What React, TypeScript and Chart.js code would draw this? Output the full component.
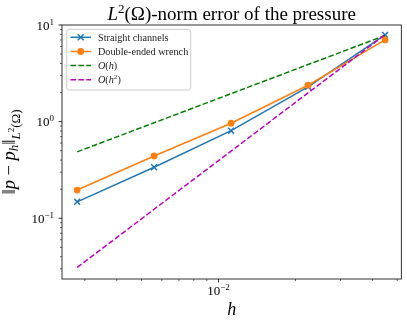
import { useEffect, useRef } from 'react';
import { Chart, registerables } from 'chart.js';

Chart.register(...registerables);

// ---- data ----
const hValues = [0.0028, 0.0056, 0.0112, 0.0224, 0.0448];
const straightErr = [0.148, 0.337, 0.807, 2.29, 7.9];
const wrenchErr = [0.196, 0.441, 0.962, 2.38, 7.01];
const orderH = [0.487, 0.974, 1.948, 3.896, 7.79];
const orderH2 = [0.031, 0.124, 0.496, 1.984, 7.94];
const seriesNames = ['Straight channels', 'Double-ended wrench', 'O(h)', 'O(h^2)'];

const xMajorTicks = [0.01];
const xMajorExp = ['\u22122'];
const xMinorTicks = [0.003, 0.004, 0.005, 0.006, 0.007, 0.008, 0.009, 0.02, 0.03, 0.04, 0.05];
const yMajorTicks = [0.1, 1, 10];
const yMajorExp = ['\u22121', '0', '1'];
const yMinorTicks = [0.03, 0.04, 0.05, 0.06, 0.07, 0.08, 0.09, 0.2, 0.3, 0.4, 0.5, 0.6, 0.7, 0.8, 0.9, 2, 3, 4, 5, 6, 7, 8, 9];

const xMin = 0.002443;
const xMax = 0.05186;
const yMin = 0.02354;
const yMax = 10;

const FONT = "'Liberation Serif', 'DejaVu Serif', serif";
const BLUE = '#1f77b4';
const ORANGE = '#ff7f0e';
const GREEN = '#008000';
const MAGENTA = '#bf00bf';
const DASH = [5.5, 2.4];

type Seg = { t: string; size: number; italic?: boolean; dy?: number };

function drawRich(ctx: CanvasRenderingContext2D, segs: Seg[], x: number, y: number, align: 'left' | 'center' | 'right') {
  const widths: number[] = [];
  let total = 0;
  for (const s of segs) {
    ctx.font = `${s.italic ? 'italic ' : ''}${s.size}px ${FONT}`;
    const w = ctx.measureText(s.t).width;
    widths.push(w);
    total += w;
  }
  let cur = align === 'center' ? x - total / 2 : align === 'right' ? x - total : x;
  segs.forEach((s, i) => {
    ctx.font = `${s.italic ? 'italic ' : ''}${s.size}px ${FONT}`;
    ctx.fillText(s.t, cur, y + (s.dy || 0));
    cur += widths[i];
  });
}

function legendSegs(name: string, size: number): Seg[] {
  if (name === 'O(h)') {
    return [{ t: 'O', size, italic: true }, { t: '(', size }, { t: 'h', size, italic: true }, { t: ')', size }];
  }
  if (name === 'O(h^2)') {
    return [
      { t: 'O', size, italic: true },
      { t: '(', size },
      { t: 'h', size, italic: true },
      { t: '2', size: size * 0.7, dy: -4 },
      { t: ')', size },
    ];
  }
  return [{ t: name, size }];
}

const decor = {
  id: 'decor',
  afterDatasetsDraw(chart: any) {
    const ctx: CanvasRenderingContext2D = chart.ctx;
    const { left, right, top, bottom } = chart.chartArea;
    const xs = chart.scales.x;
    const ys = chart.scales.y;
    ctx.save();
    ctx.fillStyle = '#000';
    ctx.strokeStyle = '#000';

    // frame
    ctx.lineWidth = 0.8;
    ctx.strokeRect(left, top, right - left, bottom - top);

    // ticks
    const tick = (x1: number, y1: number, x2: number, y2: number, w: number) => {
      ctx.lineWidth = w;
      ctx.beginPath();
      ctx.moveTo(x1, y1);
      ctx.lineTo(x2, y2);
      ctx.stroke();
    };
    xMinorTicks.forEach((v) => { const px = xs.getPixelForValue(v); tick(px, bottom, px, bottom + 2, 0.6); });
    xMajorTicks.forEach((v) => { const px = xs.getPixelForValue(v); tick(px, bottom, px, bottom + 3.5, 0.8); });
    yMinorTicks.forEach((v) => { const py = ys.getPixelForValue(v); tick(left - 2, py, left, py, 0.6); });
    yMajorTicks.forEach((v) => { const py = ys.getPixelForValue(v); tick(left - 3.5, py, left, py, 0.8); });

    // tick labels
    ctx.textBaseline = 'alphabetic';
    xMajorTicks.forEach((v, i) => {
      const px = xs.getPixelForValue(v);
      drawRich(ctx, [{ t: '10', size: 13 }, { t: xMajorExp[i], size: 9, dy: -5 }], px, bottom + 16, 'center');
    });
    yMajorTicks.forEach((v, i) => {
      const py = ys.getPixelForValue(v);
      drawRich(ctx, [{ t: '10', size: 13 }, { t: yMajorExp[i], size: 9, dy: -5 }], left - 8, py + 4.5, 'right');
    });

    // title
    drawRich(
      ctx,
      [
        { t: 'L', size: 19, italic: true },
        { t: '2', size: 13, dy: -7 },
        { t: '(\u03a9)-norm error of the pressure', size: 19 },
      ],
      (left + right) / 2,
      19.5,
      'center'
    );

    // x label
    drawRich(ctx, [{ t: 'h', size: 18, italic: true }], (left + right) / 2, 315, 'center');

    // y label
    ctx.save();
    ctx.translate(15, (top + bottom) / 2);
    ctx.rotate(-Math.PI / 2);
    drawRich(
      ctx,
      [
        { t: '\u2016', size: 18.5 },
        { t: 'p', size: 18.5, italic: true },
        { t: ' \u2212 ', size: 18.5 },
        { t: 'p', size: 18.5, italic: true },
        { t: 'h', size: 13, italic: true, dy: 3 },
        { t: '\u2016', size: 18.5 },
        { t: 'L', size: 13, italic: true, dy: 5 },
        { t: '2', size: 9, dy: -1 },
        { t: '(\u03a9)', size: 13, dy: 5 },
      ],
      0,
      0,
      'center'
    );
    ctx.restore();

    // legend
    const bx = 66.7, by = 29.3, bw = 124, bh = 60.7, r = 2.5;
    ctx.beginPath();
    ctx.moveTo(bx + r, by);
    ctx.arcTo(bx + bw, by, bx + bw, by + bh, r);
    ctx.arcTo(bx + bw, by + bh, bx, by + bh, r);
    ctx.arcTo(bx, by + bh, bx, by, r);
    ctx.arcTo(bx, by, bx + bw, by, r);
    ctx.closePath();
    ctx.fillStyle = 'rgba(255,255,255,0.8)';
    ctx.fill();
    ctx.strokeStyle = '#cccccc';
    ctx.lineWidth = 1;
    ctx.stroke();

    const colors = [BLUE, ORANGE, GREEN, MAGENTA];
    const rowY = [37.3, 51.5, 65.6, 79.8];
    seriesNames.forEach((name, i) => {
      const y = rowY[i];
      ctx.strokeStyle = colors[i];
      ctx.lineWidth = 1.5;
      ctx.setLineDash(i >= 2 ? DASH : []);
      ctx.beginPath();
      ctx.moveTo(70.5, y);
      ctx.lineTo(91, y);
      ctx.stroke();
      ctx.setLineDash([]);
      const cx = 80.7;
      if (i === 0) {
        ctx.beginPath();
        ctx.moveTo(cx - 3, y - 3); ctx.lineTo(cx + 3, y + 3);
        ctx.moveTo(cx - 3, y + 3); ctx.lineTo(cx + 3, y - 3);
        ctx.stroke();
      } else if (i === 1) {
        ctx.fillStyle = ORANGE;
        ctx.beginPath();
        ctx.arc(cx, y, 3.4, 0, Math.PI * 2);
        ctx.fill();
      }
      ctx.fillStyle = '#222';
      ctx.textBaseline = 'alphabetic';
      drawRich(ctx, legendSegs(name, 10.2), 98, y + 3.4, 'left');
    });

    ctx.restore();
  },
};

export default function App() {
  const ref = useRef<HTMLCanvasElement | null>(null);
  useEffect(() => {
    document.body.style.margin = '0';
    const canvas = ref.current;
    if (!canvas) return;
    const pts = (ys: number[]) => hValues.map((x, i) => ({ x, y: ys[i] }));
    const chart = new Chart(canvas, {
      type: 'line',
      data: {
        datasets: [
          {
            label: seriesNames[0],
            data: pts(straightErr),
            borderColor: BLUE,
            backgroundColor: BLUE,
            borderWidth: 1.5,
            pointStyle: 'crossRot',
            pointRadius: 4.2,
            pointBorderWidth: 1.5,
            pointBorderColor: BLUE,
            order: 4,
          },
          {
            label: seriesNames[1],
            data: pts(wrenchErr),
            borderColor: ORANGE,
            backgroundColor: ORANGE,
            borderWidth: 1.5,
            pointStyle: 'circle',
            pointRadius: 3.4,
            pointBorderWidth: 0,
            order: 3,
          },
          {
            label: seriesNames[2],
            data: pts(orderH),
            borderColor: GREEN,
            borderWidth: 1.5,
            borderDash: DASH,
            pointRadius: 0,
            order: 2,
          },
          {
            label: seriesNames[3],
            data: pts(orderH2),
            borderColor: MAGENTA,
            borderWidth: 1.5,
            borderDash: DASH,
            pointRadius: 0,
            order: 1,
          },
        ],
      },
      options: {
        responsive: false,
        animation: false,
        devicePixelRatio: 1,
        layout: { padding: { left: 62, top: 25, right: 4, bottom: 44 } },
        plugins: { legend: { display: false }, tooltip: { enabled: false }, title: { display: false } },
        scales: {
          x: { type: 'logarithmic', min: xMin, max: xMax, display: false, bounds: 'data' },
          y: { type: 'logarithmic', min: yMin, max: yMax, display: false, bounds: 'data' },
        },
      },
      plugins: [decor],
    } as any);
    return () => chart.destroy();
  }, []);
  return <canvas ref={ref} width={407} height={323} style={{ display: 'block' }} />;
}
